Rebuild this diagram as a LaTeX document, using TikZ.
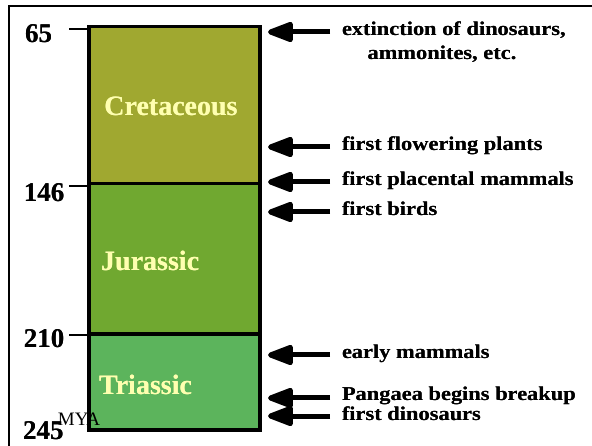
\documentclass[tikz,border=0pt]{standalone}
\usepackage{fontspec}
\usepackage[outline]{contour}
\setmainfont{Liberation Serif}
\newfontfamily\heavy{Liberation Serif}[UprightFont=* Bold, FakeStretch=1.15]
\newfontfamily\heavynum{Liberation Serif}[UprightFont=* Bold]
\usetikzlibrary{arrows.meta}
\definecolor{cret}{HTML}{A0A830}
\definecolor{jur}{HTML}{70A830}
\definecolor{tri}{HTML}{5CB45C}
\definecolor{pale}{HTML}{FFFFB0}
\contourlength{0.9pt}
\newcommand{\thick}[1]{\contour{black}{#1}}
\newcommand{\thickpale}[1]{\contour{pale}{#1}}
\tikzset{
  lab/.style={anchor=west, inner xsep=12pt, inner ysep=0pt, outer sep=0pt,
    font=\heavy\fontsize{19.5}{21}\selectfont, text height=0.6em, text depth=0.25em},
  num/.style={inner sep=0pt, font=\heavynum\fontsize{27}{29}\selectfont},
  era/.style={inner sep=0pt, text=pale, font=\heavynum\fontsize{28}{30}\selectfont},
  arr/.style={line width=5pt, -{Triangle[length=30pt,width=21pt,round]}},
  tick/.style={line width=1.5pt},
  box/.style={line width=3.5pt, line join=miter}
}
\begin{document}
\begin{tikzpicture}[x=1pt,y=-1pt]
\useasboundingbox (0,0) rectangle (592,446);
\fill[white] (0,0) rectangle (592,446);
% outer frame
\draw[line width=2pt] (9,460) -- (9,6) -- (610,6);
% column
\fill[cret] (89,26.5) rectangle (260,183.5);
\fill[jur] (89,183.5) rectangle (260,334);
\fill[tri] (89,334) rectangle (260,430);
\draw[box] (89,26.5) rectangle (260,430);
\draw[box] (89,183.5) -- (260,183.5);
\draw[box] (89,334) -- (260,334);
% era names
\node[era] (cr) at (171,106) {\thickpale{Cretaceous}};
\node[era, anchor=west] (ju) at (101,261) {\thickpale{Jurassic}};
\node[era, anchor=west] (tr) at (99,385) {\thickpale{Triassic}};
% ages
\node[num] (n65) at (38.5,33.5) {\thick{65}};
\node[num] (n146) at (44,193) {\thick{146}};
\node[num] (n210) at (44,339) {\thick{210}};
\node[num] (n245) at (43.5,430.5) {\thick{245}};
\node[inner sep=0pt, font=\fontsize{19}{20}\selectfont] (mya) at (79,419) {MYA};
\coordinate (k65) at (69,29);   \coordinate (c65) at (89,29);
\coordinate (k146) at (69,186); \coordinate (c146) at (89,186);
\coordinate (k210) at (69,335); \coordinate (c210) at (89,335);
\draw[tick] (k65) -- (c65);
\draw[tick] (k146) -- (c146);
\draw[tick] (k210) -- (c210);
% events
\begin{scope}[every node/.append style={yshift=-2pt}]
\node[lab] (e1) at (330,32) {\thick{extinction of dinosaurs,}};
\node[lab, anchor=center] (e1b) at (442,56) {\thick{ammonites, etc.}};
\node[lab] (e2) at (330,147) {\thick{first flowering plants}};
\node[lab] (e3) at (330,182) {\thick{first placental mammals}};
\node[lab] (e4) at (330,212) {\thick{first birds}};
\node[lab] (e5) at (330,355) {\thick{early mammals}};
\node[lab] (e6) at (330,397) {\thick{Pangaea begins breakup}};
\node[lab] (e7) at (330,417) {\thick{first dinosaurs}};
\end{scope}
\coordinate (t1) at (268,32);
\coordinate (t2) at (268,147);
\coordinate (t3) at (268,182);
\coordinate (t4) at (268,212);
\coordinate (t5) at (268,355);
\coordinate (t6) at (268,398);
\coordinate (t7) at (268,416);
\draw[arr] (e1.west |- t1) -- (t1);
\draw[arr] (e2.west |- t2) -- (t2);
\draw[arr] (e3.west |- t3) -- (t3);
\draw[arr] (e4.west |- t4) -- (t4);
\draw[arr] (e5.west |- t5) -- (t5);
\draw[arr] (e6.west |- t6) -- (t6);
\draw[arr] (e7.west |- t7) -- (t7);
\end{tikzpicture}
\end{document}
